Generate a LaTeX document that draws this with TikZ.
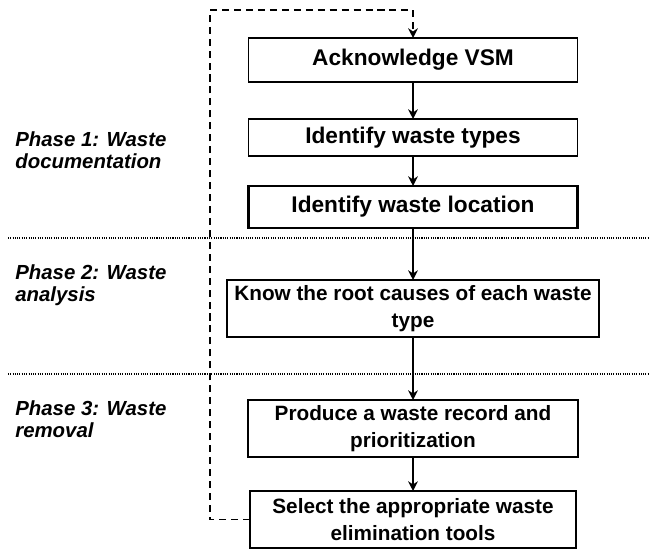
\documentclass[tikz,border=0pt]{standalone}
\usepackage{fontspec}
\setmainfont{Liberation Sans}
\usepackage{tikz}
\usetikzlibrary{positioning,arrows.meta}

\begin{document}
\begin{tikzpicture}[
    stepbox/.style={draw, line width=1.3pt, minimum height=1.14cm, align=center, inner sep=1pt,
      outer sep=0pt, font=\bfseries\fontsize{11.8}{15.4}\selectfont},
    topbox/.style={stepbox, line width=1pt, minimum width=6.58cm,
      font=\bfseries\fontsize{12.9}{15.4}\selectfont},
    phase/.style={anchor=west, align=left, inner sep=0pt,
      font=\bfseries\itshape\fontsize{11.6}{12.5}\selectfont},
    flow/.style={-{Stealth[length=5.5pt,width=5.5pt]}, line width=0.9pt},
    split/.style={line width=0.6pt, dash pattern=on 0.6pt off 0.7pt}]
    \useasboundingbox (0,0) rectangle (13,-10.98);
    % steps
    \node (ack)[topbox, minimum height=0.88cm] at (8.26,-1.2) {Acknowledge VSM};
    \node (types)[topbox, minimum height=0.74cm, below=0.74cm of ack] {Identify waste types};
    \node (loc)[topbox, minimum height=0.84cm, line width=1.5pt, below=0.6cm of types] {Identify waste location};
    \node (root)[stepbox, minimum width=7.44cm, below=1.04cm of loc] {Know the root causes of each waste\\type};
    \node (rec)[stepbox, minimum width=6.6cm, below=1.26cm of root] {Produce a waste record and\\prioritization};
    \node (sel)[stepbox, minimum width=6.52cm, below=0.68cm of rec] {Select the appropriate waste\\elimination tools};
    % phases
    \node (p1)[phase] at (0.3,-3.0) {Phase 1: Waste\\documentation};
    \node (p2)[phase] at (0.3,-5.7) {Phase 2: Waste\\analysis};
    \node (p3)[phase] at (0.3,-8.38) {Phase 3: Waste\\removal};
    \draw[split] (0.16,-4.76) -- (13,-4.76);
    \draw[split] (0.16,-7.48) -- (13,-7.48);
    \draw[flow] (ack) -- (types);
    \draw[flow] (types) -- (loc);
    \draw[flow] (loc) -- (root);
    \draw[flow] (root) -- (rec);
    \draw[flow] (rec) -- (sel);
    % feedback loop
    \coordinate (back) at (4.2,-0.2);
    \draw[flow, dash pattern=on 4pt off 2.8pt] (sel.west) -| (back) -| (ack.north);
\end{tikzpicture}
\end{document}
